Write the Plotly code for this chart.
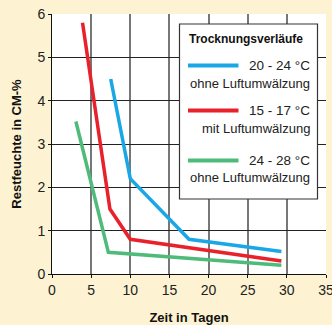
import plotly.graph_objects as go

blue_x = [7.5, 10, 17.5, 29.3]
blue_y = [4.5, 2.2, 0.8, 0.52]
red_x = [3.9, 7.4, 10, 29.3]
red_y = [5.8, 1.5, 0.8, 0.3]
green_x = [3.05, 7.2, 29.3]
green_y = [3.52, 0.5, 0.2]

series = [
    ("20 - 24 °C", "ohne Luftumwälzung", blue_x, blue_y, "#1aa7e6"),
    ("15 - 17 °C", "mit Luftumwälzung", red_x, red_y, "#e8212b"),
    ("24 - 28 °C", "ohne Luftumwälzung", green_x, green_y, "#4fbb7a"),
]

x_ticks = [0, 5, 10, 15, 20, 25, 30, 35]
y_ticks = [0, 1, 2, 3, 4, 5, 6]

FONT = "Liberation Sans, Arial, sans-serif"

fig = go.Figure()
for l1, l2, xs, ys, c in series:
    fig.add_trace(go.Scatter(x=xs, y=ys, mode="lines", line=dict(color=c, width=3.5),
                             name=l1, showlegend=False))

W, H = 332, 325
L, R, T, B = 52, 6, 14, 51
pw, ph = W - L - R, H - T - B

def px(x):
    return (x - L) / pw

def py(y):
    return (T + ph - y) / ph

shapes = [dict(type="rect", xref="paper", yref="paper", x0=px(179.5), x1=px(317.5),
               y0=py(199), y1=py(24), fillcolor="white", line=dict(color="#333", width=1.2))]
annotations = [dict(xref="paper", yref="paper", x=px(187), y=py(38.5), text="<b>Trocknungsverläufe</b>",
                    showarrow=False, xanchor="left", yanchor="middle",
                    font=dict(family=FONT, size=12, color="#111"))]
rows = [(65.5, 83.5), (110.5, 128.5), (160.5, 177)]
for (l1, l2, xs, ys, c), (y1, y2) in zip(series, rows):
    shapes.append(dict(type="line", xref="paper", yref="paper", x0=px(188), x1=px(238.5),
                       y0=py(y1), y1=py(y1), line=dict(color=c, width=4)))
    annotations.append(dict(xref="paper", yref="paper", x=px(312), y=py(y1), text=l1,
                            showarrow=False, xanchor="right", yanchor="middle",
                            font=dict(family=FONT, size=13.5, color="#222")))
    annotations.append(dict(xref="paper", yref="paper", x=px(312), y=py(y2), text=l2,
                            showarrow=False, xanchor="right", yanchor="middle",
                            font=dict(family=FONT, size=13, color="#222")))

fig.update_layout(
    width=W, height=H, margin=dict(l=L, r=R, t=T, b=B),
    paper_bgcolor="#fdf3d2", plot_bgcolor="white",
    shapes=shapes, annotations=annotations,
    xaxis=dict(range=[0, 35], tickvals=x_ticks, showgrid=True, gridcolor="#777", gridwidth=1.5,
               showline=True, linecolor="#111", linewidth=1, ticks="outside", ticklen=3,
               tickcolor="#111", zeroline=False, automargin=False, ticklabeloverflow="allow",
               tickfont=dict(family=FONT, size=14, color="#222"),
               title=dict(text="<b>Zeit in Tagen</b>", standoff=16,
                          font=dict(family=FONT, size=13, color="#111"))),
    yaxis=dict(range=[0, 6], tickvals=y_ticks, showgrid=True, gridcolor="#222", gridwidth=1,
               showline=True, linecolor="#111", linewidth=1, ticks="outside", ticklen=3,
               tickcolor="#111", zeroline=False, automargin=False, ticklabeloverflow="allow",
               tickfont=dict(family=FONT, size=14, color="#222"),
               title=dict(text="<b>Restfeuchte in CM-%</b>", standoff=12,
                          font=dict(family=FONT, size=13, color="#111"))),
)
fig.write_html("out.html", config={"displayModeBar": False},
               post_script="document.body.style.margin='0';document.body.style.background='#fdf3d2';")
